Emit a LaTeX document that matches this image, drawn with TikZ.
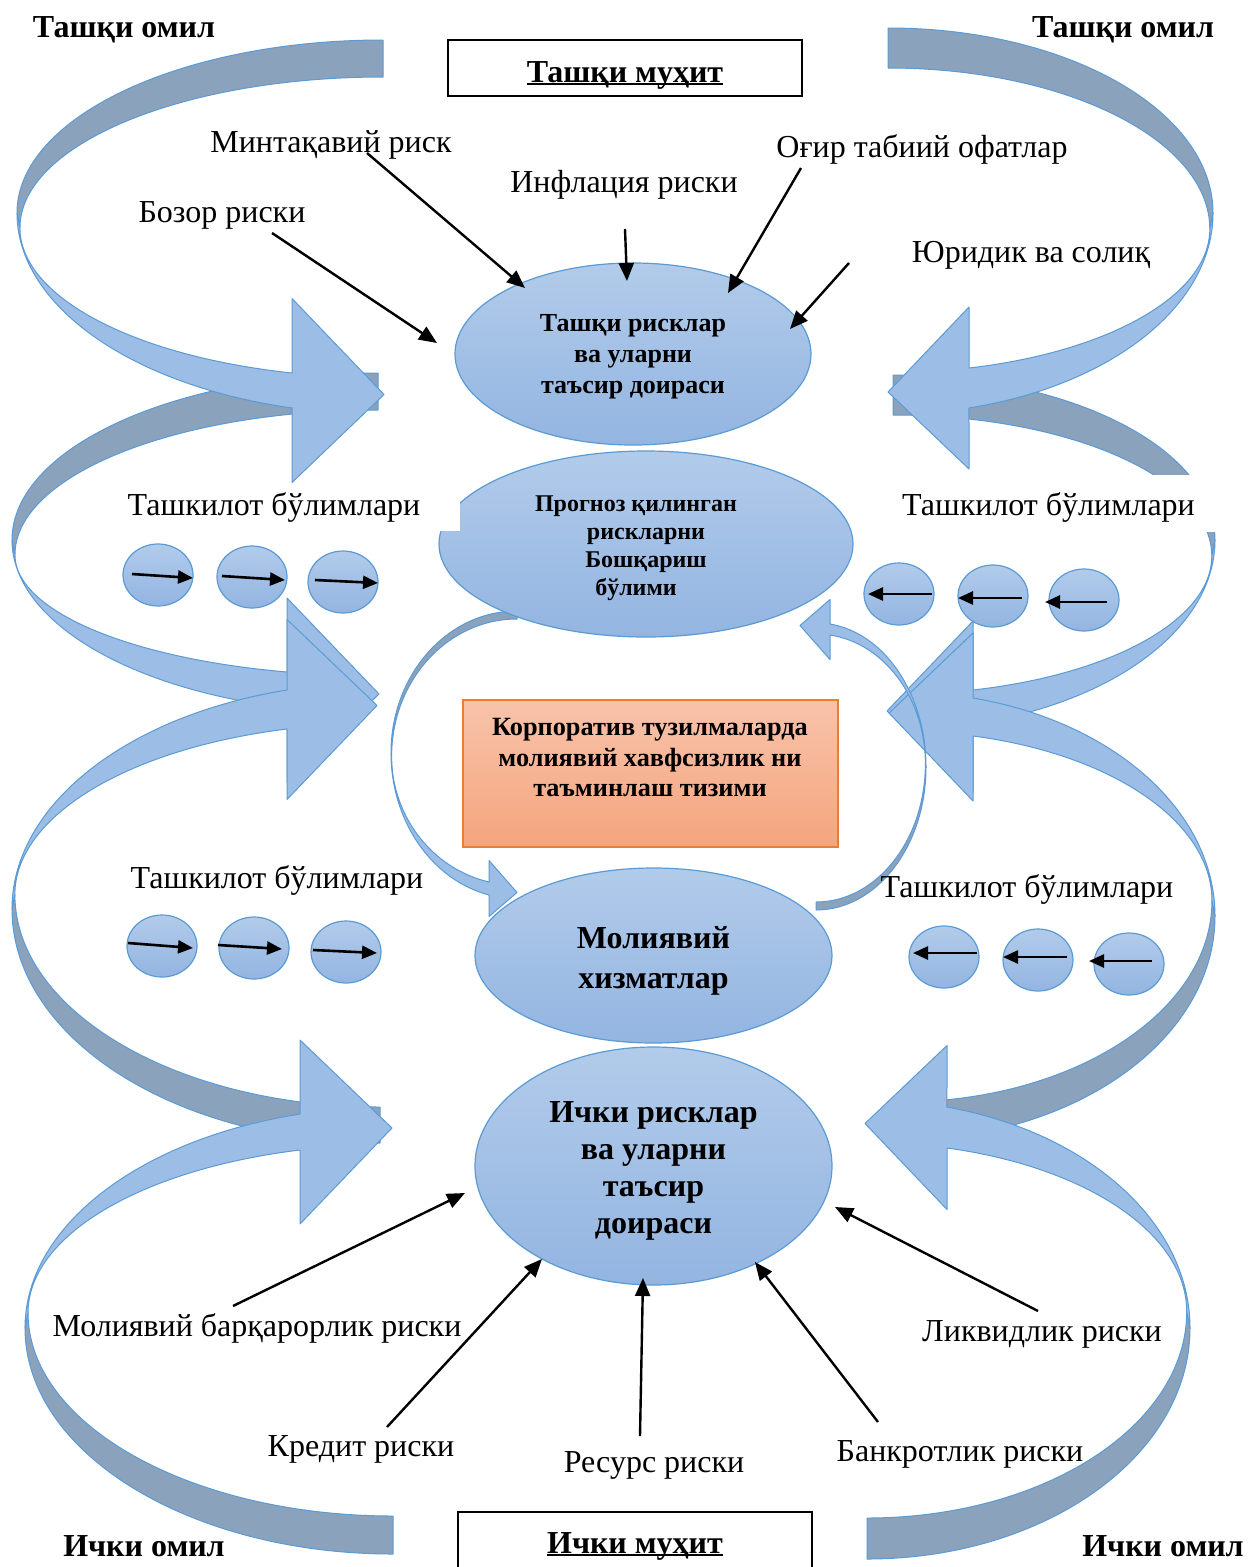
\documentclass[tikz,border=0pt]{standalone}
\usepackage{fontspec}
\setmainfont{Liberation Serif}
\usetikzlibrary{shapes.geometric,arrows.meta}
\definecolor{ribL}{HTML}{9CBDE5}
\definecolor{ribD}{HTML}{8BA2BD}
\definecolor{ribE}{HTML}{5B9BD5}
\definecolor{eTop}{HTML}{B2CBEA}
\definecolor{eBot}{HTML}{93B5E1}
\definecolor{oTop}{HTML}{F8C3AB}
\definecolor{oBot}{HTML}{F4A57D}
\definecolor{oEdge}{HTML}{ED7D31}
\newcommand\myul[1]{\setbox0\hbox{#1}\rlap{\rule[-3pt]{\wd0}{2.2pt}}\box0}
\newcommand\padr[1]{#1\hspace*{20pt}}
% canonical curved ribbon arrow: tail at top, bends left, head lower right
% #1 tail x (ellipse centre x) #2 tail outer y #3 tail inner y #4 extreme x #5 extreme y
% #6 head base x #7 band inner y #8 band outer y #9 head half size
\newcommand{\ribbonshape}[9]{%
  \pgfmathsetmacro\rbQx{#4+(#3-#2)*0.08}%
  \pgfmathsetmacro\rbQy{#5+(#3-#2)*0.4}%
  \pgfmathsetmacro\rbRo{#1-#4}%
  \pgfmathsetmacro\rbRi{#1-\rbQx}%
  \pgfmathsetmacro\rbDo{#5-#2}%
  \pgfmathsetmacro\rbDi{\rbQy-#3}%
  \pgfmathsetmacro\rbTo{acos((#6-#1)/\rbRo)}%
  \pgfmathsetmacro\rbTi{acos((#6-#1)/\rbRi)}%
  \pgfmathsetmacro\rbYo{(#8-#5)/sin(\rbTo)}%
  \pgfmathsetmacro\rbYi{(#7-\rbQy)/sin(\rbTi)}%
  \pgfmathsetmacro\rbC{(#7+#8)/2}%
  \pgfmathsetmacro\rbHt{\rbC-#9}%
  \pgfmathsetmacro\rbHb{\rbC+#9}%
  \pgfmathsetmacro\rbTx{#6+#9}%
  \pgfmathsetmacro\rbTy{\rbC+4}%
  \path[ribback] (#1,#2) arc[start angle=270,end angle=180,x radius=\rbRo,y radius=\rbDo]
     -- (\rbQx,\rbQy) arc[start angle=180,end angle=270,x radius=\rbRi,y radius=\rbDi] -- cycle;
  \path[ribfront] (#4,#5) arc[start angle=180,end angle=\rbTo,x radius=\rbRo,y radius=\rbYo]
     -- (#6,\rbHb) -- (\rbTx,\rbTy) -- (#6,\rbHt) -- (#6,#7)
     arc[start angle=\rbTi,end angle=180,x radius=\rbRi,y radius=\rbYi] -- cycle;
}
\tikzset{
  ribback/.style={fill=ribD,draw=ribE,line width=1pt,line join=round},
  ribfront/.style={fill=ribL,draw=ribE,line width=1pt,line join=round},
  ell/.style={ellipse,draw=ribE,line width=1.2pt,top color=eTop,bottom color=eBot,inner sep=0pt,align=center},
  mini/.style={ell,minimum width=70pt,minimum height=62pt},
  lbl/.style={anchor=base,inner sep=0pt,font=\fontsize{32}{38}\selectfont},
  blbl/.style={anchor=base,inner sep=0pt,font=\bfseries\fontsize{32}{38}\selectfont},
  conn/.style={line width=2.4pt,-{Triangle[length=18pt,width=15pt]}},
  miniarr/.style={line width=2.6pt,-{Triangle[length=15pt,width=13pt]}},
  envbox/.style={draw=black,line width=1.3pt,inner sep=0pt,font=\bfseries\fontsize{32}{38}\selectfont}
}
\begin{document}
\begin{tikzpicture}[x=1pt,y=-1pt]
\useasboundingbox (0,0) rectangle (1248,1567);
\fill[white] (0,0) rectangle (1248,1567);
\begin{scope}
\clip (0,0) rectangle (1248,1567);
% ---- big ribbon arrows, left side
\ribbonshape{378}{373}{410}{12}{540}{287}{672}{708}{92}
\ribbonshape{383}{40}{77}{17}{213}{292}{373}{408}{92}
\begin{scope}[shift={(0,1818)},yscale=-1]
\ribbonshape{380}{675}{711}{12}{909}{287}{1089}{1128}{90}
\end{scope}
\begin{scope}[shift={(0,2656)},yscale=-1]
\ribbonshape{393}{1102}{1140}{25}{1328}{300}{1506}{1542}{92}
\end{scope}
% ---- big ribbon arrows, right side
\begin{scope}[shift={(1248,0)},xscale=-1]
\ribbonshape{355}{375}{415}{33}{540}{275}{690}{724}{86}
\ribbonshape{360}{28}{68}{35}{213}{279}{368}{408}{81}
\end{scope}
\begin{scope}[shift={(1248,1832)},xscale=-1,yscale=-1]
\ribbonshape{348}{692}{730}{33}{916}{275}{1096}{1134}{84}
\end{scope}
\begin{scope}[shift={(1248,2656)},xscale=-1,yscale=-1]
\ribbonshape{381}{1097}{1138}{58}{1328}{301}{1508}{1549}{82}
\end{scope}
% ---- thin circular arrows in the middle
\ribbonshape{517}{611}{619}{391}{753}{489}{882}{895}{28}
\begin{scope}[shift={(1248,1534)},xscale=-1,yscale=-1]
\ribbonshape{432}{624}{632}{322}{767}{418}{899}{910}{30}
\end{scope}
% ---- central shapes
\node[ell,minimum width=356pt,minimum height=182pt,font=\bfseries\fontsize{26}{31}\selectfont] (ext) at (633,354) {\rule{0pt}{23.5pt}Ташқи рисклар\\ва уларни\\таъсир доираси};
\node[ell,minimum width=414pt,minimum height=186pt,font=\bfseries\fontsize{24}{28}\selectfont] (prog) at (646,544) {\padr{\rule{0pt}{23.5pt}Прогноз қилинган}\\\padr{рискларни}\\\padr{Бошқариш}\\\padr{бўлими}};
\node[draw=oEdge,line width=1.2pt,top color=oTop,bottom color=oBot,minimum width=375pt,minimum height=147pt,inner sep=0pt] (core) at (650.5,773.5) {};
\node[align=center,inner sep=0pt,font=\bfseries\fontsize{26.3}{30.5}\selectfont] (coretxt) at (650,758) {Корпоратив тузилмаларда\\молиявий хавфсизлик ни\\таъминлаш тизими};
\node[ell,minimum width=357pt,minimum height=175pt,font=\bfseries\fontsize{32}{40}\selectfont] (fin) at (653.5,955.5) {\rule{0pt}{33.5pt}Молиявий\\хизматлар};
\node[ell,minimum width=357pt,minimum height=238pt,font=\bfseries\fontsize{32}{37}\selectfont] (inn) at (653.5,1166) {\rule{0pt}{30.5pt}Ички рисклар\\ва уларни\\таъсир\\доираси};
% ---- environment boxes
\node[envbox,minimum width=354pt,minimum height=56pt,text height=30pt,text depth=2pt] (tmuh) at (625,68) {\myul{Ташқи муҳит}};
\node[envbox,minimum width=354pt,minimum height=66pt,text height=24pt,text depth=8pt] (imuh) at (635,1545) {\myul{Ички муҳит}};
% ---- department labels (row 1 with white text boxes)
\node[fill=white,minimum width=372pt,minimum height=45pt,text height=22pt,text depth=9pt,inner sep=0pt,font=\fontsize{32}{38}\selectfont] (orgL1) at (274,508.5) {Ташкилот бўлимлари};
\node[fill=white,minimum width=337pt,minimum height=57pt,text height=27pt,text depth=4pt,inner sep=0pt,font=\fontsize{32}{38}\selectfont] (orgR1) at (1048.5,503.5) {Ташкилот бўлимлари};
\node[lbl] (orgL2) at (277,888) {Ташкилот бўлимлари};
\node[lbl] (orgR2) at (1027,897) {Ташкилот бўлимлари};
% ---- department circles with arrows
\foreach \n/\cx/\cy/\ax/\ay/\bx/\by in {
  cl1/158/575/132/574/193/578, cl2/252/577/222/576/285/580, cl3/343/582/315/580/378/583,
  cm1/162/946/128/943/193/948, cm2/254/948/218/945/282/949, cm3/346/952/313/950/377/953,
  cr1/899/594/932/594/868/594, cr2/993/596/1022/598/958/598, cr3/1084/600/1107/602/1045/602,
  cs1/944/957/977/953/913/953, cs2/1038/960/1067/957/1003/957, cs3/1129/964/1152/961/1089/961}{
  \node[mini] (\n) at (\cx,\cy) {};
  \coordinate (\n s) at (\ax,\ay);
  \coordinate (\n e) at (\bx,\by);
  \draw[miniarr] (\n s) -- (\n e);
}
% ---- corner labels
\node[blbl] (tomL) at (124,37) {Ташқи омил};
\node[blbl] (tomR) at (1123,37) {Ташқи омил};
\node[blbl] (iomL) at (144,1556) {Ички омил};
\node[blbl] (iomR) at (1163,1556) {Ички омил};
% ---- external risk labels
\node[lbl] (mint) at (331,152) {Минтақавий риск};
\node[lbl] (infl) at (624,192) {Инфлация риски};
\node[lbl] (ogir) at (922,157) {Оғир табиий офатлар};
\node[lbl] (boz) at (222,222) {Бозор риски};
\node[lbl] (yur) at (1031,262) {Юридик ва солиқ};
% ---- internal risk labels
\node[lbl] (molb) at (257,1336) {Молиявий барқарорлик риски};
\node[lbl] (kred) at (361,1456) {Кредит риски};
\node[lbl] (resu) at (654,1472) {Ресурс риски};
\node[lbl] (bank) at (960,1461) {Банкротлик риски};
\node[lbl] (liq) at (1042,1341) {Ликвидлик риски};
% ---- connectors
\coordinate (mintS) at (367,153);  \coordinate (mintE) at (525,288);
\coordinate (inflS) at (625,229);  \coordinate (inflE) at (627,281);
\coordinate (ogirS) at (801,168);  \coordinate (ogirE) at (728,293);
\coordinate (yurS) at (849,263);   \coordinate (yurE) at (790,329);
\coordinate (bozS) at (272,233);   \coordinate (bozE) at (437,343);
\coordinate (molbS) at (233,1306); \coordinate (molbE) at (465,1193);
\coordinate (kredS) at (387,1427); \coordinate (kredE) at (542,1259);
\coordinate (resuS) at (640,1436); \coordinate (resuE) at (643,1278);
\coordinate (bankS) at (878,1422); \coordinate (bankE) at (755,1262);
\coordinate (liqS) at (1038,1311); \coordinate (liqE) at (835,1207);
\foreach \a in {mint,infl,ogir,yur,boz,molb,kred,resu,bank,liq}{
  \draw[conn] (\a S) -- (\a E);
}
\end{scope}
\end{tikzpicture}
\end{document}
